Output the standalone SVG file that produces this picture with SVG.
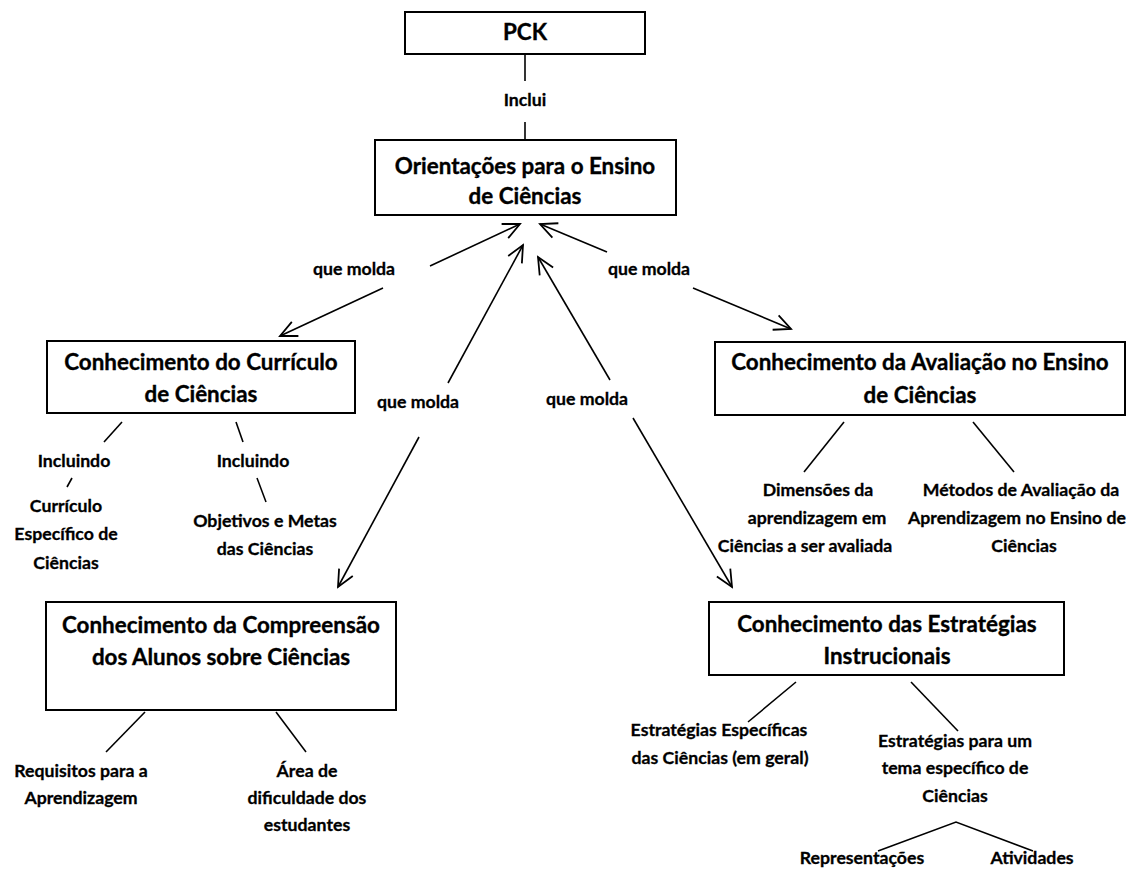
<svg xmlns="http://www.w3.org/2000/svg" width="1146" height="870" viewBox="0 0 1146 870">
<style>
  .box { fill: #fff; stroke: #000; stroke-width: 2; }
  .t { font-family: Lato, "Open Sans", "Liberation Sans", sans-serif; font-weight: bold; font-size: 22.4px; text-anchor: middle; fill: #000; stroke: #000; stroke-width: 0.35; }
  .l { font-family: Lato, "Open Sans", "Liberation Sans", sans-serif; font-weight: bold; font-size: 17.7px; text-anchor: middle; fill: #000; stroke: #000; stroke-width: 0.3; }
  .c { stroke: #000; stroke-width: 1.6; fill: none; }
</style>
<defs>
  <marker id="ah" markerUnits="userSpaceOnUse" markerWidth="20" markerHeight="20" viewBox="-16 -8 18 16" refX="0" refY="0" orient="auto">
    <path d="M-15,-7 L0,0 L-15,7" fill="none" stroke="#000" stroke-width="1.6"/>
  </marker>
</defs>
<rect width="1146" height="870" fill="#fff"/>

<g id="connectors">
  <line class="c" x1="525" y1="54" x2="525" y2="81"/>
  <line class="c" x1="525" y1="122" x2="525" y2="140"/>
  <line class="c" x1="430" y1="266" x2="520" y2="224" marker-end="url(#ah)"/>
  <line class="c" x1="383" y1="288" x2="280" y2="336" marker-end="url(#ah)"/>
  <line class="c" x1="448" y1="383" x2="523" y2="245" marker-end="url(#ah)"/>
  <line class="c" x1="419" y1="437" x2="338" y2="587" marker-end="url(#ah)"/>
  <line class="c" x1="610" y1="380" x2="538" y2="257" marker-end="url(#ah)"/>
  <line class="c" x1="633" y1="418" x2="732" y2="587" marker-end="url(#ah)"/>
  <line class="c" x1="607" y1="252" x2="540" y2="224" marker-end="url(#ah)"/>
  <line class="c" x1="693" y1="288" x2="791" y2="329" marker-end="url(#ah)"/>
  <line class="c" x1="122" y1="422" x2="104" y2="442"/>
  <line class="c" x1="72" y1="478" x2="67" y2="487"/>
  <line class="c" x1="236" y1="422" x2="243" y2="442"/>
  <line class="c" x1="257" y1="478" x2="266" y2="502"/>
  <line class="c" x1="145" y1="712" x2="106" y2="752"/>
  <line class="c" x1="276" y1="712" x2="306" y2="752"/>
  <line class="c" x1="844" y1="422" x2="804" y2="472"/>
  <line class="c" x1="973" y1="422" x2="1014" y2="472"/>
  <line class="c" x1="796" y1="682" x2="748" y2="722"/>
  <line class="c" x1="911" y1="682" x2="958" y2="731"/>
  <polyline class="c" points="878,851 956,822 1033,851"/>
</g>

<g id="pck">
  <rect class="box" x="405" y="12" width="240" height="42"/>
  <text class="t" x="525" y="40">PCK</text>
</g>
<g id="inclui">
  <text class="l" x="525" y="106">Inclui</text>
</g>
<g id="orientacoes">
  <rect class="box" x="375" y="140" width="301" height="75"/>
  <text class="t" x="525" y="174">Orientações para o Ensino</text>
  <text class="t" x="525" y="204">de Ciências</text>
</g>
<g id="label-molda-1"><text class="l" x="354" y="275">que molda</text></g>
<g id="label-molda-2"><text class="l" x="418" y="408">que molda</text></g>
<g id="label-molda-3"><text class="l" x="587" y="405">que molda</text></g>
<g id="label-molda-4"><text class="l" x="649" y="275">que molda</text></g>

<g id="curriculo">
  <rect class="box" x="47" y="341" width="308" height="72"/>
  <text class="t" x="201" y="370">Conhecimento do Currículo</text>
  <text class="t" x="201" y="402">de Ciências</text>
</g>
<g id="incluindo-1"><text class="l" x="74" y="467">Incluindo</text></g>
<g id="incluindo-2"><text class="l" x="253" y="467">Incluindo</text></g>
<g id="curriculo-especifico">
  <text class="l" x="66" y="512">Currículo</text>
  <text class="l" x="66" y="540">Específico de</text>
  <text class="l" x="66" y="569">Ciências</text>
</g>
<g id="objetivos">
  <text class="l" x="265" y="527">Objetivos e Metas</text>
  <text class="l" x="265" y="555">das Ciências</text>
</g>

<g id="compreensao">
  <rect class="box" x="46" y="602" width="350" height="108"/>
  <text class="t" x="221" y="633">Conhecimento da Compreensão</text>
  <text class="t" x="221" y="665">dos Alunos sobre Ciências</text>
</g>
<g id="requisitos">
  <text class="l" x="81" y="777">Requisitos para a</text>
  <text class="l" x="81" y="804">Aprendizagem</text>
</g>
<g id="area">
  <text class="l" x="307" y="777">Área de</text>
  <text class="l" x="307" y="804">dificuldade dos</text>
  <text class="l" x="307" y="831">estudantes</text>
</g>

<g id="avaliacao">
  <rect class="box" x="715" y="342" width="410" height="73"/>
  <text class="t" x="920" y="370">Conhecimento da Avaliação no Ensino</text>
  <text class="t" x="920" y="403">de Ciências</text>
</g>
<g id="dimensoes">
  <text class="l" x="818" y="496">Dimensões da</text>
  <text class="l" x="817" y="524">aprendizagem em</text>
  <text class="l" x="805" y="552">Ciências a ser avaliada</text>
</g>
<g id="metodos">
  <text class="l" x="1021" y="496">Métodos de Avaliação da</text>
  <text class="l" x="1017" y="524">Aprendizagem no Ensino de</text>
  <text class="l" x="1024" y="552">Ciências</text>
</g>

<g id="estrategias">
  <rect class="box" x="709" y="602" width="355" height="73"/>
  <text class="t" x="887" y="632">Conhecimento das Estratégias</text>
  <text class="t" x="887" y="664">Instrucionais</text>
</g>
<g id="estrategias-especificas">
  <text class="l" x="719" y="736">Estratégias Específicas</text>
  <text class="l" x="720" y="764">das Ciências (em geral)</text>
</g>
<g id="estrategias-tema">
  <text class="l" x="955" y="747">Estratégias para um</text>
  <text class="l" x="955" y="774">tema específico de</text>
  <text class="l" x="955" y="802">Ciências</text>
</g>
<g id="representacoes"><text class="l" x="862" y="864">Representações</text></g>
<g id="atividades"><text class="l" x="1032" y="864">Atividades</text></g>
</svg>
